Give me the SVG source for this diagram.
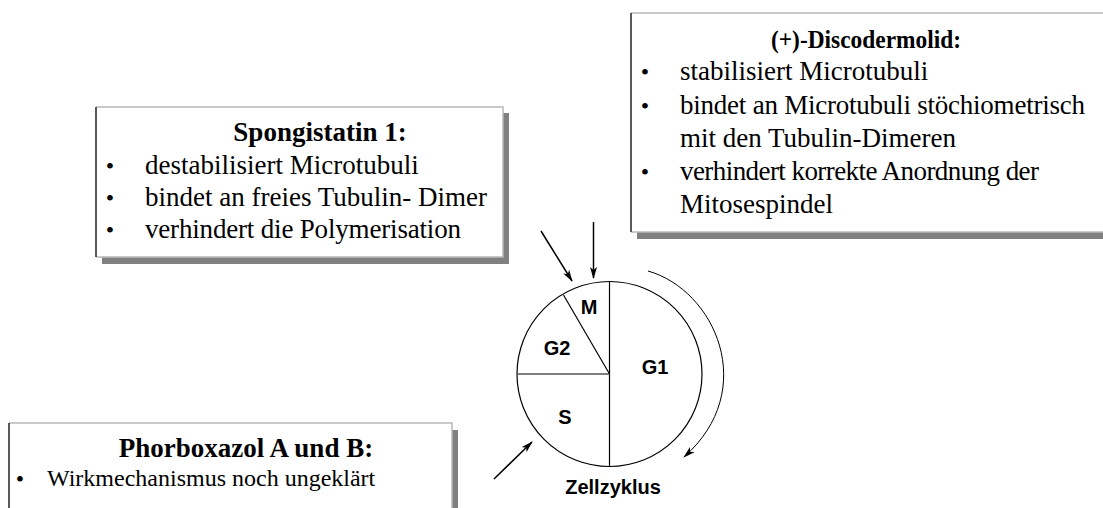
<svg xmlns="http://www.w3.org/2000/svg" width="1103" height="508" viewBox="0 0 1103 508">
  <style>
    .shadow { fill: #808080; }
    .panel { fill: #ffffff; }
    .edge-light { stroke: #b8b8b8; stroke-width: 1.5; fill: none; }
    .edge-dark { stroke: #222; stroke-width: 1.5; fill: none; }
    .title { font-family: "Liberation Serif", "Times New Roman", serif; font-weight: bold; font-size: 27px; fill: #000; text-anchor: middle; }
    .item { font-family: "Liberation Serif", "Times New Roman", serif; font-size: 27px; fill: #000; }
    .bullet { font-family: "Liberation Serif", "Times New Roman", serif; font-size: 24px; fill: #000; text-anchor: middle; }
    .phase { font-family: "Liberation Sans", Arial, sans-serif; font-weight: bold; font-size: 20px; fill: #000; text-anchor: middle; }
    .conn { stroke: #000; stroke-width: 1.5; fill: none; marker-end: url(#head); }
    .cycle { stroke: #000; stroke-width: 1; fill: none; marker-end: url(#head); }
  </style>
  <defs>
    <marker id="head" viewBox="0 0 12 8" refX="11" refY="4" markerWidth="12" markerHeight="8" markerUnits="userSpaceOnUse" orient="auto">
      <path d="M0,0.5 L12,4 L0,7.5 L3,4 z" fill="#000"/>
    </marker>
  </defs>

  <rect width="1103" height="508" fill="#ffffff"/>

  <!-- Spongistatin 1 panel -->
  <g id="spongistatin">
    <rect class="shadow" x="102" y="113" width="407" height="151"/>
    <rect class="panel" x="96" y="107" width="407" height="150"/>
    <path class="edge-light" d="M96,107 H503 V257 H96"/>
    <path class="edge-dark" d="M96,107 V257"/>
    <text class="title" x="320" y="141">Spongistatin 1:</text>
    <text class="bullet" x="110" y="174">•</text>
    <text class="bullet" x="110" y="206">•</text>
    <text class="bullet" x="110" y="238">•</text>
    <text class="item" x="145" y="174">destabilisiert Microtubuli</text>
    <text class="item" x="145" y="206">bindet an freies Tubulin- Dimer</text>
    <text class="item" x="145" y="238" textLength="316">verhindert die Polymerisation</text>
  </g>

  <!-- (+)-Discodermolid panel -->
  <g id="discodermolid">
    <rect class="shadow" x="637" y="20" width="480" height="219"/>
    <rect class="panel" x="631" y="13" width="480" height="219"/>
    <path class="edge-light" d="M631,13 H1111 M631,232 H1111"/>
    <path class="edge-dark" d="M631,13 V232"/>
    <text class="title" x="866" y="48" style="font-size:26px" textLength="190" lengthAdjust="spacingAndGlyphs">(+)-Discodermolid:</text>
    <text class="bullet" x="645" y="80">•</text>
    <text class="bullet" x="645" y="114">•</text>
    <text class="bullet" x="645" y="180">•</text>
    <text class="item" x="680" y="80">stabilisiert Microtubuli</text>
    <text class="item" x="680" y="114" textLength="405">bindet an Microtubuli stöchiometrisch</text>
    <text class="item" x="680" y="147">mit den Tubulin-Dimeren</text>
    <text class="item" x="680" y="180" textLength="359">verhindert korrekte Anordnung der</text>
    <text class="item" x="680" y="213">Mitosespindel</text>
  </g>

  <!-- Phorboxazol A und B panel -->
  <g id="phorboxazol">
    <rect class="shadow" x="16" y="430" width="442" height="90"/>
    <rect class="panel" x="9" y="423" width="443" height="90"/>
    <path class="edge-light" d="M9,423 H452 V513"/>
    <path class="edge-dark" d="M9,423 V513"/>
    <text class="title" x="246" y="457">Phorboxazol A und B:</text>
    <text class="bullet" x="20" y="487">•</text>
    <text class="item" x="47" y="486" style="font-size:24px">Wirkmechanismus noch ungeklärt</text>
  </g>

  <!-- cell cycle wheel -->
  <g id="zellzyklus">
    <circle cx="609.5" cy="374" r="92.5" fill="#ffffff" stroke="#000" stroke-width="1.2"/>
    <line x1="609.5" y1="281.5" x2="609.5" y2="466.5" stroke="#000" stroke-width="1.2"/>
    <line x1="517" y1="374" x2="609.5" y2="374" stroke="#555" stroke-width="1.5"/>
    <line x1="609.5" y1="374" x2="563.5" y2="295" stroke="#000" stroke-width="1.2"/>
    <text class="phase" x="589" y="314">M</text>
    <text class="phase" x="557" y="355">G2</text>
    <text class="phase" x="655" y="374">G1</text>
    <text class="phase" x="565" y="424">S</text>
    <text class="phase" x="613" y="494">Zellzyklus</text>
  </g>

  <!-- connectors -->
  <g id="connectors">
    <line class="conn" x1="541" y1="231" x2="572" y2="281"/>
    <line class="conn" x1="593.5" y1="222" x2="593.5" y2="278"/>
    <line class="conn" x1="494" y1="479" x2="532" y2="442"/>
    <path class="cycle" d="M648,271 C715,290 760,390 684,457"/>
  </g>
</svg>
